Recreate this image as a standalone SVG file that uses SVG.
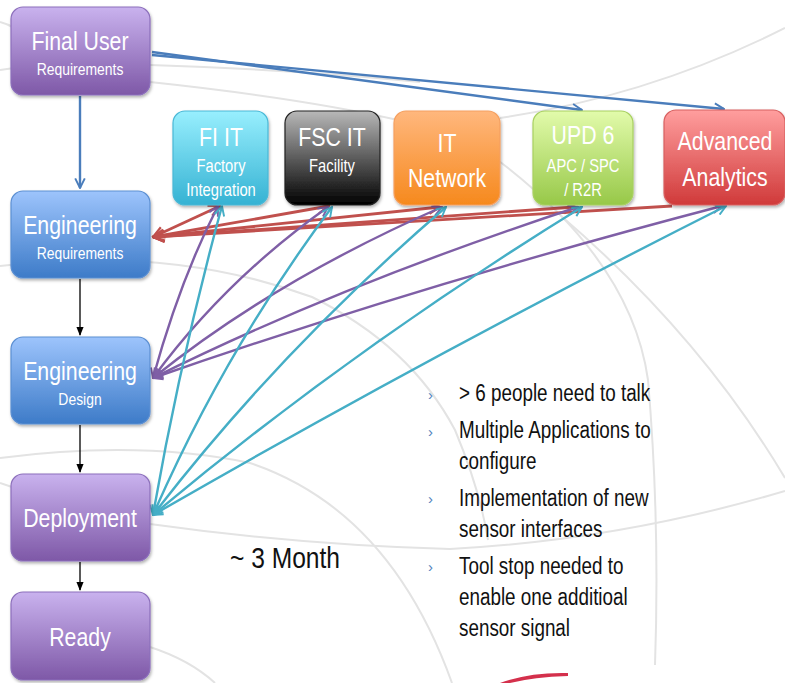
<svg xmlns="http://www.w3.org/2000/svg" width="785" height="683" viewBox="0 0 785 683">
  <defs>
    <linearGradient id="gPurple" x1="0" y1="0" x2="0" y2="1">
      <stop offset="0" stop-color="#c9b2ee"/>
      <stop offset="1" stop-color="#7e58a7"/>
    </linearGradient>
    <linearGradient id="gBlue" x1="0" y1="0" x2="0" y2="1">
      <stop offset="0" stop-color="#9dc4fc"/>
      <stop offset="1" stop-color="#3d7bc8"/>
    </linearGradient>
    <linearGradient id="gCyan" x1="0" y1="0" x2="0" y2="1">
      <stop offset="0" stop-color="#98effe"/>
      <stop offset="1" stop-color="#35b2d3"/>
    </linearGradient>
    <linearGradient id="gGrey" x1="0" y1="0" x2="0" y2="1">
      <stop offset="0" stop-color="#b8b8b8"/>
      <stop offset="1" stop-color="#000000"/>
    </linearGradient>
    <linearGradient id="gOrange" x1="0" y1="0" x2="0" y2="1">
      <stop offset="0" stop-color="#ffb77d"/>
      <stop offset="1" stop-color="#f6891d"/>
    </linearGradient>
    <linearGradient id="gGreen" x1="0" y1="0" x2="0" y2="1">
      <stop offset="0" stop-color="#e2fbab"/>
      <stop offset="1" stop-color="#97c848"/>
    </linearGradient>
    <linearGradient id="gRed" x1="0" y1="0" x2="0" y2="1">
      <stop offset="0" stop-color="#ff9e9e"/>
      <stop offset="1" stop-color="#d03a3a"/>
    </linearGradient>
    <filter id="shadow" x="-10%" y="-10%" width="125%" height="130%">
      <feDropShadow dx="1" dy="2" stdDeviation="1.5" flood-color="#000" flood-opacity="0.3"/>
    </filter>
    <marker id="mBlue" viewBox="0 0 10 10" refX="9" refY="5" markerWidth="5" markerHeight="5" orient="auto-start-reverse" markerUnits="strokeWidth">
      <path d="M1,1 L9,5 L1,9" fill="none" stroke="#4a7dbb" stroke-width="1.6"/>
    </marker>
    <marker id="mRed" viewBox="0 0 10 10" refX="9" refY="5" markerWidth="5" markerHeight="5" orient="auto-start-reverse" markerUnits="strokeWidth">
      <path d="M1,1 L9,5 L1,9" fill="none" stroke="#c0504d" stroke-width="1.6"/>
    </marker>
    <marker id="mPurple" viewBox="0 0 10 10" refX="9" refY="5" markerWidth="5" markerHeight="5" orient="auto-start-reverse" markerUnits="strokeWidth">
      <path d="M1,1 L9,5 L1,9" fill="none" stroke="#7f5fa6" stroke-width="1.6"/>
    </marker>
    <marker id="mCyan" viewBox="0 0 10 10" refX="9" refY="5" markerWidth="5" markerHeight="5" orient="auto-start-reverse" markerUnits="strokeWidth">
      <path d="M1,1 L9,5 L1,9" fill="none" stroke="#45aec6" stroke-width="1.6"/>
    </marker>
    <marker id="mBlack" viewBox="0 0 10 10" refX="9" refY="5" markerWidth="7" markerHeight="7" orient="auto" markerUnits="strokeWidth">
      <path d="M0,1 L10,5 L0,9 Z" fill="#000"/>
    </marker>
  </defs>
  <style>
    .arc { fill: none; stroke: #e3e3e3; stroke-width: 2; }
    .box { stroke-width: 1.2; filter: url(#shadow); }
    .t { font-family: "Liberation Sans", Arial, sans-serif; fill: #ffffff; text-anchor: middle; }
    .big { font-size: 26px; }
    .small { font-size: 17px; }
    .mid { font-size: 18px; }
    .line { fill: none; stroke-width: 2.4; }
    .blue { stroke: #4a7dbb; }
    .red { stroke: #c0504d; stroke-width: 2.8; }
    .purple { stroke: #7f5fa6; }
    .cyan { stroke: #45aec6; }
    .black { stroke: #000; stroke-width: 1.3; }
    .bul { font-family: "Liberation Sans", Arial, sans-serif; font-size: 23px; fill: #111; }
    .chev { font-family: "Liberation Sans", Arial, sans-serif; font-size: 15px; fill: #4f81bd; }
  </style>

  <rect x="0" y="0" width="785" height="683" fill="#ffffff"/>

  <!-- faint decorative arcs behind everything -->
  <g id="backdrop">
    <path class="arc" d="M0,22 Q8,24 14,28"/>
    <path class="arc" d="M0,70 L14,68"/>
    <path class="arc" d="M150,65 Q300,70 420,82"/>
    <path class="arc" d="M150,82 Q300,98 398,120"/>
    <path class="arc" d="M500,118 Q650,96 785,28"/>
    <path class="arc" d="M0,266 Q170,245 312,297 Q410,345 455,430 Q480,490 488,540"/>
    <path class="arc" d="M470,140 Q630,250 648,380 Q660,520 655,665"/>
    <path class="arc" d="M560,215 Q700,335 785,478"/>
    <path class="arc" d="M0,458 Q140,440 250,463 Q390,510 452,683"/>
    <path class="arc" d="M150,524 Q300,545 450,549 Q620,540 785,491"/>
    <path class="arc" d="M150,647 Q190,660 215,683"/>
    <path class="arc" d="M0,483 L12,487"/>
    <path d="M500,683 Q530,672 568,673 L568,676 Q534,677 510,683 Z" fill="#d4304c"/>
  </g>

  <!-- connectors -->
  <g id="connectors">
    <!-- vertical flow -->
    <line class="line blue" x1="80" y1="96" x2="80" y2="188" marker-end="url(#mBlue)"/>
    <line class="line black" x1="80" y1="279" x2="80" y2="335" marker-end="url(#mBlack)"/>
    <line class="line black" x1="80" y1="425" x2="80" y2="472" marker-end="url(#mBlack)"/>
    <line class="line black" x1="80" y1="562" x2="80" y2="590" marker-end="url(#mBlack)"/>

    <!-- final user requirements to tool owners -->
    <line class="line blue" x1="152" y1="52" x2="582" y2="110" marker-end="url(#mBlue)"/>
    <line class="line blue" x1="152" y1="55" x2="724" y2="109" marker-end="url(#mBlue)"/>

    <!-- engineering requirements -->
    <line class="line red" x1="153" y1="237" x2="220" y2="206" marker-start="url(#mRed)" marker-end="url(#mRed)"/>
    <line class="line red" x1="153" y1="237" x2="329" y2="206" marker-start="url(#mRed)" marker-end="url(#mRed)"/>
    <line class="line red" x1="153" y1="237" x2="440" y2="207" marker-start="url(#mRed)" marker-end="url(#mRed)"/>
    <line class="line red" x1="153" y1="237" x2="575" y2="207" marker-start="url(#mRed)" marker-end="url(#mRed)"/>
    <line class="line red" x1="153" y1="237" x2="672" y2="206" marker-start="url(#mRed)"/>

    <!-- engineering design -->
    <path class="line purple" d="M153,378 Q180,280 218,206" marker-start="url(#mPurple)" marker-end="url(#mPurple)"/>
    <path class="line purple" d="M153,378 Q225,280 328,207" marker-start="url(#mPurple)" marker-end="url(#mPurple)"/>
    <path class="line purple" d="M153,378 Q275,280 442,207" marker-start="url(#mPurple)" marker-end="url(#mPurple)"/>
    <path class="line purple" d="M153,378 Q340,285 578,207" marker-start="url(#mPurple)" marker-end="url(#mPurple)"/>
    <path class="line purple" d="M153,378 Q420,285 722,206" marker-start="url(#mPurple)" marker-end="url(#mPurple)"/>

    <!-- deployment -->
    <path class="line cyan" d="M153,515 Q180,360 222,206" marker-start="url(#mCyan)" marker-end="url(#mCyan)"/>
    <path class="line cyan" d="M153,515 Q225,350 332,207" marker-start="url(#mCyan)" marker-end="url(#mCyan)"/>
    <path class="line cyan" d="M153,515 Q280,350 446,207" marker-start="url(#mCyan)" marker-end="url(#mCyan)"/>
    <path class="line cyan" d="M153,515 Q350,350 582,207" marker-start="url(#mCyan)" marker-end="url(#mCyan)"/>
    <path class="line cyan" d="M153,515 Q430,355 726,206" marker-start="url(#mCyan)" marker-end="url(#mCyan)"/>
  </g>

  <!-- process steps (labels condensed horizontally) -->
  <g id="final-user">
    <rect class="box" x="11" y="7" width="139" height="88" rx="12" fill="url(#gPurple)" stroke="#8c6fbb"/>
    <text class="t big" transform="translate(80,50) scale(0.82,1)">Final User</text>
    <text class="t small" transform="translate(80,75) scale(0.82,1)">Requirements</text>
  </g>
  <g id="eng-requirements">
    <rect class="box" x="11" y="191" width="139" height="87" rx="12" fill="url(#gBlue)" stroke="#5b8fd2"/>
    <text class="t big" transform="translate(80,234) scale(0.82,1)">Engineering</text>
    <text class="t small" transform="translate(80,259) scale(0.82,1)">Requirements</text>
  </g>
  <g id="eng-design">
    <rect class="box" x="11" y="337" width="139" height="87" rx="12" fill="url(#gBlue)" stroke="#5b8fd2"/>
    <text class="t big" transform="translate(80,380) scale(0.82,1)">Engineering</text>
    <text class="t small" transform="translate(80,405) scale(0.82,1)">Design</text>
  </g>
  <g id="deployment">
    <rect class="box" x="11" y="474" width="139" height="87" rx="12" fill="url(#gPurple)" stroke="#8c6fbb"/>
    <text class="t big" transform="translate(80,527) scale(0.82,1)">Deployment</text>
  </g>
  <g id="ready">
    <rect class="box" x="11" y="592" width="139" height="88" rx="12" fill="url(#gPurple)" stroke="#8c6fbb"/>
    <text class="t big" transform="translate(80,646) scale(0.82,1)">Ready</text>
  </g>

  <!-- stakeholders -->
  <g id="fi-it">
    <rect class="box" x="173" y="111" width="95" height="94" rx="12" fill="url(#gCyan)" stroke="#4ab8d6"/>
    <text class="t big" transform="translate(221,146) scale(0.82,1)">FI IT</text>
    <text class="t mid" transform="translate(221,172) scale(0.82,1)">Factory</text>
    <text class="t mid" transform="translate(221,196) scale(0.82,1)">Integration</text>
  </g>
  <g id="fsc-it">
    <rect class="box" x="285" y="111" width="95" height="94" rx="12" fill="url(#gGrey)" stroke="#222"/>
    <text class="t big" transform="translate(332,146) scale(0.82,1)">FSC IT</text>
    <text class="t mid" transform="translate(332,172) scale(0.82,1)">Facility</text>
  </g>
  <g id="it-network">
    <rect class="box" x="394" y="111" width="106" height="94" rx="12" fill="url(#gOrange)" stroke="#f5a060"/>
    <text class="t big" transform="translate(447,152) scale(0.82,1)">IT</text>
    <text class="t big" transform="translate(447,187) scale(0.82,1)">Network</text>
  </g>
  <g id="upd6">
    <rect class="box" x="533" y="111" width="100" height="94" rx="12" fill="url(#gGreen)" stroke="#a8d060"/>
    <text class="t big" transform="translate(583,144) scale(0.82,1)">UPD 6</text>
    <text class="t mid" transform="translate(583,172) scale(0.82,1)">APC / SPC</text>
    <text class="t mid" transform="translate(583,196) scale(0.82,1)">/ R2R</text>
  </g>
  <g id="advanced-analytics">
    <rect class="box" x="664" y="110" width="121" height="95" rx="12" fill="url(#gRed)" stroke="#d86060"/>
    <text class="t big" transform="translate(725,150) scale(0.82,1)">Advanced</text>
    <text class="t big" transform="translate(725,186) scale(0.82,1)">Analytics</text>
  </g>

  <!-- notes -->
  <g id="duration">
    <text transform="translate(230,568) scale(0.82,1)" font-family="'Liberation Sans', Arial, sans-serif" font-size="30" fill="#111">~ 3 Month</text>
  </g>
  <g id="issues">
    <text class="chev" x="428" y="400">›</text>
    <text class="bul" transform="translate(459,401) scale(0.82,1)">&gt; 6 people need to talk</text>
    <text class="chev" x="428" y="437">›</text>
    <text class="bul" transform="translate(459,438) scale(0.82,1)">Multiple Applications to</text>
    <text class="bul" transform="translate(459,469) scale(0.82,1)">configure</text>
    <text class="chev" x="428" y="504">›</text>
    <text class="bul" transform="translate(459,506) scale(0.82,1)">Implementation of new</text>
    <text class="bul" transform="translate(459,537) scale(0.82,1)">sensor interfaces</text>
    <text class="chev" x="428" y="572">›</text>
    <text class="bul" transform="translate(459,574) scale(0.82,1)">Tool stop needed to</text>
    <text class="bul" transform="translate(459,605) scale(0.82,1)">enable one additioal</text>
    <text class="bul" transform="translate(459,636) scale(0.82,1)">sensor signal</text>
  </g>
</svg>
